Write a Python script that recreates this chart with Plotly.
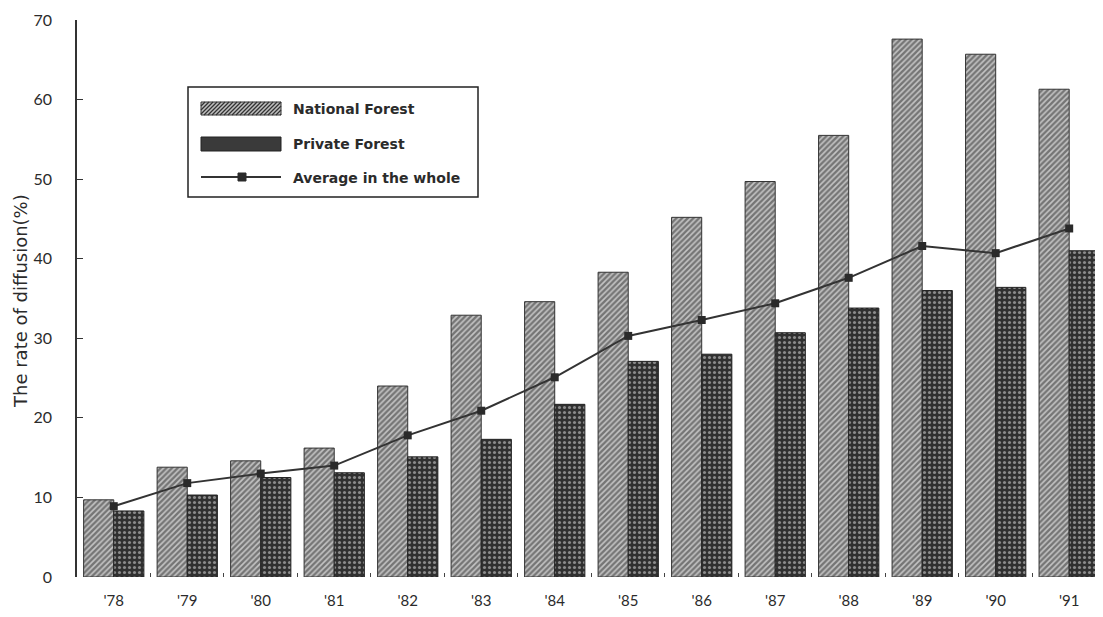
import plotly.graph_objects as go

years = ["'78", "'79", "'80", "'81", "'82", "'83", "'84", "'85", "'86", "'87", "'88", "'89", "'90", "'91"]
national = [9.7, 13.8, 14.6, 16.2, 24.0, 32.9, 34.6, 38.3, 45.2, 49.7, 55.5, 67.6, 65.7, 61.3]
private = [8.3, 10.3, 12.5, 13.1, 15.1, 17.3, 21.7, 27.1, 28.0, 30.7, 33.8, 36.0, 36.4, 41.0]
average = [8.9, 11.8, 13.0, 14.0, 17.8, 20.9, 25.1, 30.3, 32.3, 34.4, 37.6, 41.6, 40.7, 43.8]

FONT = "Lato, 'DejaVu Sans', sans-serif"
WIDE = "'DejaVu Sans', sans-serif"
INK = "#2b2b2b"

fig = go.Figure()
fig.add_trace(go.Bar(
    x=years, y=national, name="National Forest",
    marker=dict(color="#b8b8b8",
                line=dict(color="#333333", width=1),
                pattern=dict(shape="/", fgcolor="#262626", bgcolor="#c4c4c4", size=4, solidity=0.6)),
))
fig.add_trace(go.Bar(
    x=years, y=private, name="Private Forest",
    marker=dict(color="#3a3a3a",
                line=dict(color="#222222", width=1),
                pattern=dict(shape=".", fgcolor="#e6e6e6", bgcolor="#303030", size=5, solidity=0.3)),
))
fig.add_trace(go.Scatter(
    x=years, y=average, name="Average in the whole", mode="lines+markers",
    line=dict(color="#333333", width=2),
    marker=dict(symbol="square", size=8, color="#2a2a2a"),
))

# page offset of the figure (default body margin) and plot-area geometry in page pixels
OFF = 8
L, R, T, B = 77, 1103, 20, 577
W, H = 1103 - OFF, 617 - OFF
def px(x):
    return (x - L) / (R - L)
def py(y):
    return (B - y) / (B - T)

shapes = []
# legend box
shapes.append(dict(type="rect", xref="paper", yref="paper",
                   x0=px(188), x1=px(478), y0=py(197), y1=py(87),
                   line=dict(color="#222222", width=1.5), fillcolor="white", layer="above"))
# national swatch
sx0, sx1, sy0, sy1 = 201, 281, 102, 115
shapes.append(dict(type="rect", xref="paper", yref="paper",
                   x0=px(sx0), x1=px(sx1), y0=py(sy1), y1=py(sy0),
                   line=dict(color="#333333", width=1), fillcolor="#c0c0c0", layer="above"))
h = sy1 - sy0
path = ""
step = 4
xs = sx0 - h
while xs < sx1:
    a0 = xs
    t0 = max(0.0, (sx0 - a0) / h)
    t1 = min(1.0, (sx1 - a0) / h)
    if t1 > t0:
        x_a, y_a = a0 + t0 * h, sy1 - t0 * h
        x_b, y_b = a0 + t1 * h, sy1 - t1 * h
        path += f"M {px(x_a):.5f},{py(y_a):.5f} L {px(x_b):.5f},{py(y_b):.5f} "
    xs += step
shapes.append(dict(type="path", xref="paper", yref="paper", path=path,
                   line=dict(color="#333333", width=1.3), layer="above"))
# private swatch
shapes.append(dict(type="rect", xref="paper", yref="paper",
                   x0=px(201), x1=px(281), y0=py(151), y1=py(137),
                   line=dict(color="#222222", width=1), fillcolor="#3a3a3a", layer="above"))
# average swatch
shapes.append(dict(type="line", xref="paper", yref="paper",
                   x0=px(201), x1=px(281), y0=py(177), y1=py(177),
                   line=dict(color="#333333", width=2), layer="above"))
shapes.append(dict(type="rect", xref="paper", yref="paper",
                   x0=px(238), x1=px(246), y0=py(181), y1=py(173),
                   line=dict(color="#2a2a2a", width=1), fillcolor="#2a2a2a", layer="above"))

annotations = []
for label, yy in [("National Forest", 109), ("Private Forest", 144), ("Average in the whole", 178)]:
    annotations.append(dict(xref="paper", yref="paper", x=px(291), y=py(yy),
                            text=label, showarrow=False, xanchor="left", yanchor="middle",
                            font=dict(family=WIDE, size=14, color=INK, weight="bold")))
annotations.append(dict(xref="paper", yref="paper", x=px(20), y=py(301),
                        text="The rate of diffusion(%)", textangle=-90, showarrow=False,
                        xanchor="center", yanchor="middle",
                        font=dict(family=WIDE, size=18, color=INK)))

fig.update_layout(
    width=W, height=H,
    margin=dict(l=L - OFF, r=1103 - R, t=T - OFF, b=617 - B, autoexpand=False),
    paper_bgcolor="white", plot_bgcolor="white",
    barmode="group", bargap=0.18, bargroupgap=0.0,
    showlegend=False,
    shapes=shapes, annotations=annotations,
    font=dict(family=FONT, color=INK),
)
fig.update_xaxes(
    type="category", range=[-0.5, 13.46],
    tickson="boundaries", ticks="inside", ticklen=4, tickcolor="#444444",
    showline=False, showgrid=False, zeroline=False,
    tickfont=dict(family=FONT, size=15, color=INK), ticklabelstandoff=13,
)
fig.update_yaxes(
    range=[0, 70], tickvals=[0, 10, 20, 30, 40, 50, 60, 70],
    ticks="inside", ticklen=6, tickcolor="#333333",
    showline=True, linecolor="#333333", linewidth=1.5,
    showgrid=False, zeroline=False,
    tickfont=dict(family=FONT, size=16, color=INK), ticklabelstandoff=20,
)

fig.write_html("out.html")
